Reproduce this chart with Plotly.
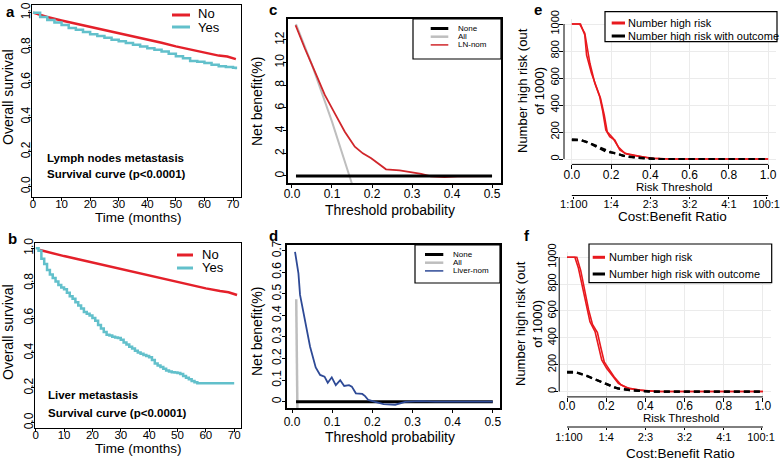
import plotly.graph_objects as go

W, H = 784, 465
FONT = "Liberation Sans, Arial, sans-serif"

# ---------------- data ----------------
# panel a: lymph nodes metastasis KM
a_no_t = [0, 5, 10, 15, 20, 25, 30, 35, 40, 45, 50, 55, 60, 65, 68, 71]
a_no_s = [1.0, 0.975, 0.955, 0.937, 0.92, 0.902, 0.885, 0.866, 0.847, 0.827, 0.806, 0.787, 0.768, 0.753, 0.748, 0.733]
a_yes_t = [0, 2.5, 5, 7.5, 10, 12.5, 15, 17.5, 20, 22.5, 25, 27.5, 30, 32.5, 35, 37.5, 40, 42.5, 45, 47.5,
           50, 52.5, 55, 57.5, 60, 62.5, 65, 67.5, 70, 71]
a_yes_s = [1.0, 0.975, 0.958, 0.944, 0.929, 0.912, 0.901, 0.889, 0.876, 0.866, 0.855, 0.844, 0.836, 0.826,
           0.815, 0.805, 0.795, 0.786, 0.776, 0.763, 0.75, 0.738, 0.722, 0.717, 0.711, 0.701, 0.692, 0.688, 0.683, 0.674]
# panel b: liver metastasis KM
b_no_t = [1.5, 5, 10, 15, 20, 25, 30, 35, 40, 45, 50, 55, 60, 65, 68, 71]
b_no_s = [0.99, 0.975, 0.955, 0.937, 0.918, 0.9, 0.882, 0.862, 0.843, 0.824, 0.805, 0.787, 0.77, 0.755, 0.748, 0.732]
b_yes_t = [0, 1, 2, 3, 4, 5, 6, 7, 8, 9, 10, 11, 12, 13, 14, 15, 16, 17, 18, 19, 20, 21, 22, 23, 24, 25, 26, 27,
           28, 29, 30, 31, 32, 33, 34, 35, 36, 37, 38, 39, 40, 41, 42, 43, 44, 45, 46, 47, 48, 49, 50, 51, 52, 53,
           54, 55, 56, 57, 70]
b_yes_s = [1.0, 0.985, 0.94, 0.91, 0.875, 0.85, 0.83, 0.81, 0.79, 0.775, 0.765, 0.745, 0.725, 0.71, 0.69, 0.672,
           0.655, 0.635, 0.625, 0.615, 0.6, 0.585, 0.56, 0.54, 0.52, 0.505, 0.5, 0.493, 0.488, 0.485, 0.475, 0.46,
           0.448, 0.436, 0.425, 0.412, 0.403, 0.395, 0.388, 0.382, 0.375, 0.36, 0.34, 0.328, 0.32, 0.31, 0.3, 0.294,
           0.29, 0.288, 0.285, 0.28, 0.268, 0.258, 0.25, 0.24, 0.232, 0.226, 0.226]

# panel c: DCA LN-nom
c_none_x = [0.01, 0.5]
c_none_y = [0, 0]
c_all_x = [0.01, 0.05, 0.1, 0.143, 0.16]
c_all_y = [13.4, 9.8, 4.8, 0, -1.8]
c_model_x = [0.009, 0.032, 0.061, 0.082, 0.107, 0.132, 0.157, 0.177, 0.198, 0.219, 0.235, 0.269, 0.294,
             0.323, 0.347, 0.381, 0.414, 0.497]
c_model_y = [13.3, 11.27, 8.9, 7.15, 5.53, 3.9, 2.59, 2.0, 1.56, 1.03, 0.59, 0.5, 0.38, 0.18, -0.03, -0.09, -0.03, 0.0]

# panel d: DCA Liver-nom
d_none_x = [0.01, 0.5]
d_none_y = [0, 0]
d_all_x = [0.0105, 0.0135]
d_all_y = [0.475, -0.05]
d_model_x = [0.0075, 0.016, 0.020, 0.028, 0.037, 0.045, 0.059, 0.070, 0.081, 0.089, 0.099, 0.109, 0.120, 0.130,
             0.142, 0.149, 0.159, 0.175, 0.182, 0.190, 0.207, 0.228, 0.257, 0.282, 0.319, 0.356, 0.5]
d_model_y = [0.695, 0.595, 0.495, 0.417, 0.325, 0.255, 0.159, 0.124, 0.116, 0.088, 0.113, 0.077, 0.100, 0.073,
             0.077, 0.07, 0.039, 0.036, 0.026, 0.008, -0.001, -0.011, -0.014, -0.001, 0.003, 0.0, 0.0]

# panel e: clinical impact (LN)
e_risk1_x = [0, 0.044, 0.066, 0.075, 0.100, 0.125, 0.146, 0.165, 0.180, 0.210, 0.236, 0.27, 0.329, 0.397, 0.5, 1.0]
e_risk1_y = [1000, 1000, 918, 770, 635, 536, 450, 326, 202, 153, 91, 42, 24, 5, 0, 0]
e_risk2_x = [0, 0.04, 0.066, 0.092, 0.117, 0.142, 0.156, 0.173, 0.193, 0.219, 0.244, 0.278, 0.329, 0.414, 0.5, 1.0]
e_risk2_y = [1000, 1000, 931, 709, 561, 461, 363, 215, 165, 141, 67, 37, 22, 5, 0, 0]
e_out1_x = [0, 0.04, 0.048, 0.108, 0.176, 0.227, 0.278, 0.38, 0.45, 1.0]
e_out1_y = [146, 146, 141, 104, 54, 42, 17, 5, 0, 0]
e_out2_x = [0, 0.04, 0.075, 0.142, 0.2, 0.26, 0.35, 0.42, 1.0]
e_out2_y = [140, 140, 128, 84, 50, 25, 6, 0, 0]

# panel f: clinical impact (Liver)
f_risk1_x = [0, 0.04, 0.058, 0.080, 0.097, 0.117, 0.143, 0.160, 0.177, 0.202, 0.228, 0.262, 0.304, 0.372, 0.46, 1.0]
f_risk1_y = [1000, 1000, 920, 771, 645, 520, 446, 347, 235, 173, 123, 61, 28, 11, 0, 0]
f_risk2_x = [0, 0.05, 0.07, 0.09, 0.11, 0.13, 0.155, 0.172, 0.19, 0.215, 0.24, 0.275, 0.32, 0.4, 0.48, 1.0]
f_risk2_y = [1000, 1000, 900, 740, 610, 500, 440, 330, 220, 165, 110, 50, 20, 5, 0, 0]
f_out1_x = [0, 0.04, 0.092, 0.168, 0.245, 0.32, 0.42, 1.0]
f_out1_y = [147, 147, 123, 73, 28, 11, 0, 0]
f_out2_x = [0, 0.05, 0.11, 0.19, 0.26, 0.35, 0.44, 1.0]
f_out2_y = [140, 140, 110, 60, 22, 6, 0, 0]

# tick labels
km_xticks = [0, 10, 20, 30, 40, 50, 60, 70]
km_yticks = [0.0, 0.2, 0.4, 0.6, 0.8, 1.0]
dca_xticks = [0.0, 0.1, 0.2, 0.3, 0.4, 0.5]
c_yticks = [0, 2, 4, 6, 8, 10, 12]
d_yticks = [0, 0.1, 0.2, 0.3, 0.4, 0.5, 0.6, 0.7]
d_yticktext = ["0", "0.1", "0.2", "0.3", "0.4", "0.5", "0.6", "0.7"]
ci_xticks = [0.0, 0.2, 0.4, 0.6, 0.8, 1.0]
ci_xticktext = ["0.0", "0.2", "0.4", "0.6", "0.8", "1.0"]
ci_yticks = [0, 200, 400, 600, 800, 1000]
cb_pos = [0.0099, 0.2, 0.4, 0.6, 0.8, 0.99]
cb_text = ["1:100", "1:4", "2:3", "3:2", "4:1", "100:1"]

RED = "#E4202A"
CYAN = "#62C0CB"
DRED = "#D0262B"
BLUE = "#2E4A96"
GRAY = "#BEBEBE"
CIRED = "#E8191E"


def X(p):
    return p / W


def Y(p):
    return 1 - p / H


def dx(l, r):
    return [X(l), X(r)]


def dy(t, b):
    return [Y(b), Y(t)]


fig = go.Figure()


def line(x, y, xa, ya, color, width, dash=None, shape="linear"):
    fig.add_trace(go.Scatter(x=x, y=y, xaxis=xa, yaxis=ya, mode="lines",
                             line=dict(color=color, width=width, dash=dash, shape=shape),
                             hoverinfo="skip", showlegend=False))


# a
line(a_no_t, a_no_s, "x", "y", RED, 2.5)
line(a_yes_t, a_yes_s, "x", "y", CYAN, 2.5, shape="hv")
# b
line(b_no_t, b_no_s, "x2", "y2", RED, 2.5)
line(b_yes_t, b_yes_s, "x2", "y2", CYAN, 2.5, shape="hv")
# c
line(c_all_x, c_all_y, "x3", "y3", GRAY, 2)
line(c_model_x, c_model_y, "x3", "y3", DRED, 1.8)
line(c_none_x, c_none_y, "x3", "y3", "black", 3)
# d
line(d_all_x, d_all_y, "x4", "y4", GRAY, 2.5)
line(d_none_x, d_none_y, "x4", "y4", "black", 3)
line(d_model_x, d_model_y, "x4", "y4", BLUE, 1.8)
# e
line(e_risk1_x, e_risk1_y, "x5", "y5", CIRED, 1.6)
line(e_risk2_x, e_risk2_y, "x5", "y5", CIRED, 1.6)
line(e_out1_x, e_out1_y, "x5", "y5", "black", 2.2, dash="6px,4px")
line(e_out2_x, e_out2_y, "x5", "y5", "black", 2.2, dash="6px,4px")
# f
line(f_risk1_x, f_risk1_y, "x6", "y6", CIRED, 1.6)
line(f_risk2_x, f_risk2_y, "x6", "y6", CIRED, 1.6)
line(f_out1_x, f_out1_y, "x6", "y6", "black", 2.2, dash="6px,4px")
line(f_out2_x, f_out2_y, "x6", "y6", "black", 2.2, dash="6px,4px")
# carriers for the cost:benefit axes
fig.add_trace(go.Scatter(x=cb_pos, y=[-500] * len(cb_pos), xaxis="x7", yaxis="y5", mode="markers",
                         marker=dict(opacity=0), hoverinfo="skip", showlegend=False))
fig.add_trace(go.Scatter(x=cb_pos, y=[-500] * len(cb_pos), xaxis="x8", yaxis="y6", mode="markers",
                         marker=dict(opacity=0), hoverinfo="skip", showlegend=False))

tf = dict(size=12, color="black", family=FONT)
tf115 = dict(size=11.5, color="black", family=FONT)
tf11 = dict(size=11, color="black", family=FONT)
boxax = dict(showgrid=False, zeroline=False, ticks="outside", ticklen=3, tickcolor="black", tickwidth=1,
             showline=True, linecolor="black", linewidth=1, mirror=True, tickfont=tf, automargin=False)
ciax = dict(showgrid=True, gridcolor="#EBEBEB", gridwidth=1, zeroline=False, ticks="outside", ticklen=4,
            tickcolor="black", tickwidth=1, showline=False, tickfont=tf, automargin=False)

fig.update_layout(
    width=W, height=H, margin=dict(l=0, r=0, t=0, b=0, pad=0, autoexpand=False),
    paper_bgcolor="white", plot_bgcolor="white", font=dict(family=FONT, color="black"),
    xaxis=dict(boxax, domain=dx(32, 241), range=[-0.35, 72.8], tickvals=km_xticks, anchor="y",
               ticklabelstandoff=-7, tickfont=tf115),
    yaxis=dict(boxax, domain=dy(5, 197), range=[-0.06, 1.044], tickvals=km_yticks, tickformat=".1f",
               tickangle=-90, anchor="x", ticklabelstandoff=-7),
    xaxis2=dict(boxax, domain=dx(35, 241), range=[-0.25, 72.4], tickvals=km_xticks, anchor="y2",
                ticklabelstandoff=-7, tickfont=tf115),
    yaxis2=dict(boxax, domain=dy(243, 428), range=[-0.03, 1.03], tickvals=km_yticks, tickformat=".1f",
                tickangle=-90, anchor="x2", ticklabelstandoff=-7),
    xaxis3=dict(boxax, domain=dx(288, 501), range=[-0.00995, 0.5224], tickvals=dca_xticks, tickformat=".1f",
                anchor="y3", linewidth=1.5, ticklabelstandoff=-4),
    yaxis3=dict(boxax, domain=dy(19, 183), range=[-0.618, 13.85], tickvals=c_yticks, tickangle=-90,
                anchor="x3", linewidth=1.5, ticklabelstandoff=-6),
    xaxis4=dict(boxax, domain=dx(287, 500), range=[-0.0125, 0.518], tickvals=dca_xticks, tickformat=".1f",
                anchor="y4", linewidth=1.5, ticklabelstandoff=-1),
    yaxis4=dict(boxax, domain=dy(245, 408), range=[-0.0292, 0.7265], tickvals=d_yticks, ticktext=d_yticktext,
                tickangle=-90, anchor="x4", linewidth=1.5, ticklabelstandoff=-4),
    xaxis5=dict(ciax, domain=dx(564, 776), range=[-0.04, 1.04], tickvals=ci_xticks, ticktext=ci_xticktext,
                anchor="y5", ticklabelstandoff=-5),
    yaxis5=dict(ciax, domain=dy(18.6, 164.4), range=[-40, 1040], tickvals=ci_yticks, tickangle=-90,
                anchor="x5", tickfont=tf11, ticklabelstandoff=-4),
    xaxis6=dict(ciax, domain=dx(559.2, 770.8), range=[-0.04, 1.04], tickvals=ci_xticks, ticktext=ci_xticktext,
                anchor="y6", ticklabelstandoff=-6),
    yaxis6=dict(ciax, domain=dy(251.9, 396.9), range=[-40, 1040], tickvals=ci_yticks, tickangle=-90,
                anchor="x6", tickfont=tf11, ticklabelstandoff=-6),
    xaxis7=dict(overlaying="x5", anchor="free", position=Y(195.5), range=[-0.04, 1.04], tickvals=cb_pos,
                ticktext=cb_text, showgrid=False, zeroline=False, showline=False, ticks="outside", ticklen=2,
                tickcolor="black", tickfont=tf11, automargin=False, ticklabelstandoff=-4),
    xaxis8=dict(overlaying="x6", anchor="free", position=Y(427), range=[-0.04, 1.04], tickvals=cb_pos,
                ticktext=cb_text, showgrid=False, zeroline=False, showline=False, ticks="outside", ticklen=2,
                tickcolor="black", tickfont=tf11, automargin=False, ticklabelstandoff=-2),
)

shapes = []
# clinical impact axis lines (only over the tick span, as in base R)
for xa, ya, ycb in (("x5", "y5", 195.5), ("x6", "y6", 427)):
    shapes.append(dict(type="line", xref=xa, yref=ya + " domain", x0=0, x1=1, y0=0, y1=0,
                       line=dict(color="black", width=1)))
    shapes.append(dict(type="line", xref=xa + " domain", yref=ya, x0=0, x1=0, y0=0, y1=1000,
                       line=dict(color="black", width=1)))
    shapes.append(dict(type="line", xref=xa, yref="paper", x0=0, x1=1, y0=Y(ycb), y1=Y(ycb),
                       line=dict(color="black", width=1)))

ann = []


def txt(x, y, s, size, bold=False, anchor="center", angle=0):
    ann.append(dict(x=X(x), y=Y(y), xref="paper", yref="paper", text=("<b>%s</b>" % s) if bold else s,
                    showarrow=False, xanchor=anchor, yanchor="middle", textangle=angle,
                    font=dict(size=size, color="black", family=FONT)))


def seg(x0, x1, y, color, width):
    shapes.append(dict(type="line", xref="paper", yref="paper", x0=X(x0), x1=X(x1), y0=Y(y), y1=Y(y),
                       line=dict(color=color, width=width)))


def box(l, t, r, b):
    shapes.append(dict(type="rect", xref="paper", yref="paper", x0=X(l), x1=X(r), y0=Y(b), y1=Y(t),
                       line=dict(color="black", width=1.2), fillcolor="white", layer="above"))


# panel letters
txt(10, 12, "a", 15, bold=True)
txt(12, 238, "b", 15, bold=True)
txt(273, 10, "c", 15, bold=True)
txt(273, 235, "d", 15, bold=True)
txt(538, 9, "e", 15, bold=True)
txt(527, 235, "f", 15, bold=True)

# panel a
txt(8, 97, "Overall survival", 14, angle=-90)
txt(138, 217.5, "Time (months)", 13.5)
txt(45, 158, "Lymph nodes metastasis", 11.5, bold=True, anchor="left")
txt(45, 174, "Survival curve (p<0.0001)", 11.5, bold=True, anchor="left")
seg(172, 190, 15, RED, 3)
seg(172, 190, 27, CYAN, 3)
txt(196, 13.5, "No", 13, anchor="left")
txt(196, 27, "Yes", 13, anchor="left")
# panel b
txt(8, 332, "Overall survival", 14, angle=-90)
txt(138, 448.5, "Time (months)", 13.5)
txt(46, 395, "Liver metastasis", 11.5, bold=True, anchor="left")
txt(46, 412.5, "Survival curve (p<0.0001)", 11.5, bold=True, anchor="left")
seg(177, 193, 255, RED, 3)
seg(177, 193, 268, CYAN, 3)
txt(200, 254, "No", 13, anchor="left")
txt(200, 267.5, "Yes", 13, anchor="left")
# panel c
txt(257, 102, "Net benefit(%)", 14, angle=-90)
txt(390, 209.5, "Threshold probability", 14)
box(413, 19, 501, 59)
seg(430.7, 448.3, 28.5, "black", 3)
seg(430.7, 448.3, 36.7, GRAY, 2.5)
seg(430.7, 448.3, 44.9, DRED, 1.5)
txt(456, 28.5, "None", 8, anchor="left")
txt(456, 36.7, "All", 8, anchor="left")
txt(456, 44.9, "LN-nom", 8, anchor="left")
# panel d
txt(257, 332, "Net benefit(%)", 14, angle=-90)
txt(390, 437, "Threshold probability", 14)
box(415, 245, 500, 283)
seg(425, 443.3, 254.5, "black", 3)
seg(425, 443.3, 262.7, GRAY, 2.5)
seg(425, 443.3, 270.9, BLUE, 1.5)
txt(450.7, 254.5, "None", 8, anchor="left")
txt(450.7, 262.7, "All", 8, anchor="left")
txt(450.7, 270.9, "Liver-nom", 8, anchor="left")
# panel e
txt(531, 91, "Number high risk (out<br>of 1000)", 13, angle=-90)
txt(674, 187, "Risk Threshold", 11.5)
txt(672, 216.5, "Cost:Benefit Ratio", 13.5)
box(605, 11.7, 777, 41.7)
seg(611.7, 625, 23, CIRED, 3)
seg(611.7, 625, 36, "black", 3)
txt(626, 23, "Number high risk", 11, anchor="left")
txt(626, 36, "Number high risk with outcome", 11, anchor="left")
# panel f
txt(529, 324, "Number high risk (out<br>of 1000)", 13, angle=-90)
txt(681, 418, "Risk Threshold", 11.5)
txt(680, 453, "Cost:Benefit Ratio", 13.5)
box(589, 244, 771.7, 282.7)
seg(592.7, 605, 257.3, CIRED, 3)
seg(592.7, 605, 274, "black", 3)
txt(607.3, 257.3, "Number high risk", 11, anchor="left")
txt(607.3, 274, "Number high risk with outcome", 11, anchor="left")

fig.update_layout(shapes=shapes, annotations=ann)
fig.write_html("out.html", config={"displayModeBar": False},
               post_script="document.body.style.margin='0';")
